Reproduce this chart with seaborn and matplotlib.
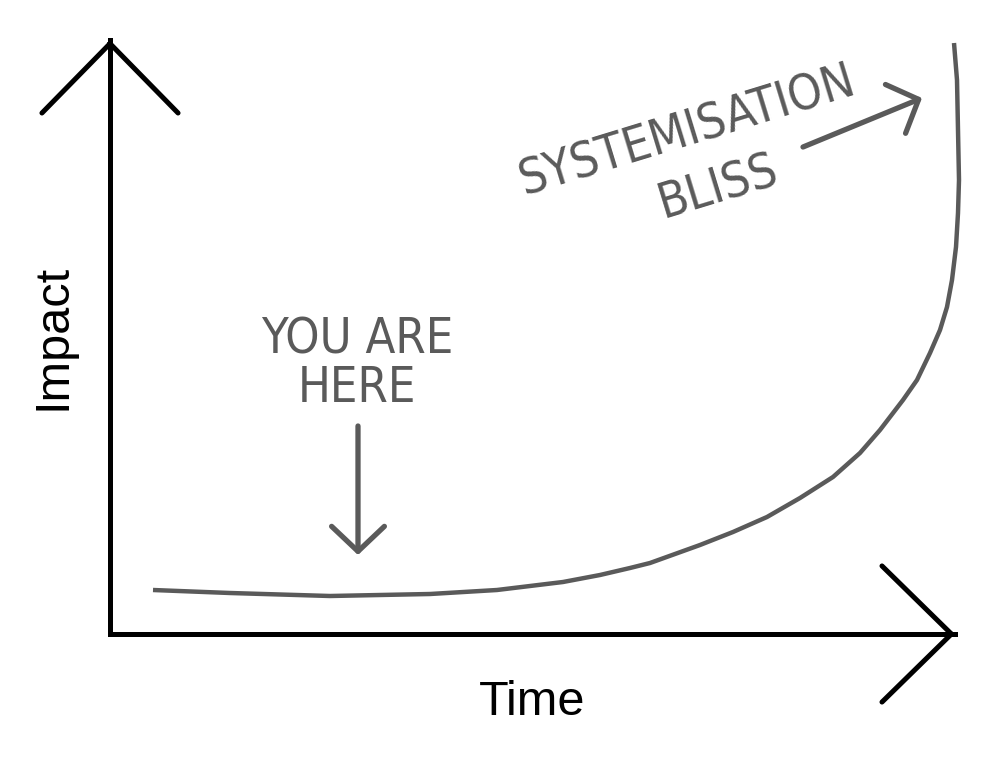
import numpy as np
import matplotlib
matplotlib.use("Agg")
import matplotlib.pyplot as plt
import seaborn as sns

# curve (time, impact), origin at the axes corner
time = [43, 120, 220, 320, 387, 453, 490, 520, 540, 590, 623, 657, 690, 723,
        750, 770, 793, 807, 820, 830, 837, 842, 846, 848, 849, 848, 847, 844]
impact = [44, 41, 38, 40, 44, 52, 59, 66, 71, 89, 102, 117, 136, 157,
          181, 204, 234, 254, 281, 304, 327, 354, 387, 421, 454, 504, 554, 591]

x_label = "Time"
y_label = "Impact"
note_here = ["YOU ARE", "HERE"]
note_bliss = ["SYSTEMISATION", "BLISS"]

sns.set_theme(style="white")
plt.rcParams["font.family"] = ["Liberation Sans", "DejaVu Sans"]

fig = plt.figure(figsize=(10, 7.69), dpi=100)
ax = fig.add_axes([0.11, 135 / 769, 0.845, 594 / 769])

sns.lineplot(x=time, y=impact, sort=False, estimator=None, color="#5a5a5a",
             linewidth=3.2, ax=ax)
for line in ax.lines:
    line.set_clip_on(False)
    line.set_solid_capstyle("butt")
    line.set_solid_joinstyle("round")

ax.set_xlim(0, 845)
ax.set_ylim(0, 594)
ax.set_xticks([])
ax.set_yticks([])
sns.despine(ax=ax)
for side in ["left", "bottom"]:
    ax.spines[side].set_linewidth(3.6)
    ax.spines[side].set_color("black")
    ax.spines[side].set_capstyle("projecting")

ax.set_xlabel(x_label, fontsize=35, labelpad=33, color="black")
ax.set_ylabel(y_label, fontsize=35, labelpad=25, color="black")

# arrow heads on the axes
axis_head = "->,head_length=50,head_width=49"
ax.annotate("", xy=(0, 1), xytext=(0, 0.995), xycoords="axes fraction",
            arrowprops=dict(arrowstyle=axis_head, lw=3.6, color="black",
                            mutation_scale=1, shrinkA=0, shrinkB=0,
                            capstyle="round", joinstyle="miter"))
ax.annotate("", xy=(1, 0), xytext=(0.995, 0), xycoords="axes fraction",
            arrowprops=dict(arrowstyle=axis_head, lw=3.6, color="black",
                            mutation_scale=1, shrinkA=0, shrinkB=0,
                            capstyle="round", joinstyle="miter"))

hand = dict(family="DejaVu Sans", fontstretch="condensed", color="#5a5a5a",
            fontsize=35)
note_head = "->,head_length=18,head_width=19"

# "you are here"
ax.text(247, 281, note_here[0], ha="center", va="baseline", **hand)
ax.text(247, 232, note_here[1], ha="center", va="baseline", **hand)
ax.annotate("", xy=(248, 79), xytext=(248, 208),
            arrowprops=dict(arrowstyle=note_head, lw=3.8, color="#5a5a5a",
                            mutation_scale=1, shrinkA=0, shrinkB=0,
                            capstyle="round"))

# "systemisation bliss"
ax.text(581, 489, note_bliss[0], ha="center", va="baseline", rotation=17,
        rotation_mode="anchor", **hand)
ax.text(612, 433, note_bliss[1], ha="center", va="baseline", rotation=17,
        rotation_mode="anchor", **hand)
ax.annotate("", xy=(812, 536), xytext=(693, 487),
            arrowprops=dict(arrowstyle=note_head, lw=3.8, color="#5a5a5a",
                            mutation_scale=1, shrinkA=0, shrinkB=0,
                            capstyle="round"))

fig.savefig("out.png", dpi=100)
